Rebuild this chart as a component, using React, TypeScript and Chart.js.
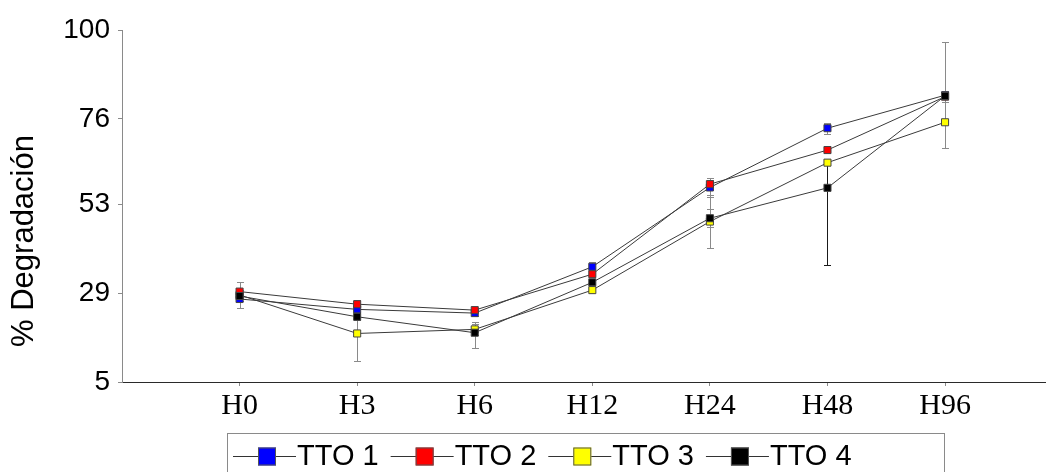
import React, { useEffect, useRef } from "react";
import { Chart, registerables } from "chart.js";

Chart.register(...registerables);

const categories = ["H0", "H3", "H6", "H12", "H24", "H48", "H96"];
const yTickValues = [5, 29, 53, 76, 100];
const seriesLabels = ["TTO 1", "TTO 2", "TTO 3", "TTO 4"];

const tto1 = [27.4, 24.6, 23.6, 36.1, 57.5, 73.5, 82.4];
const tto2 = [29.4, 26.0, 24.4, 34.1, 58.4, 67.6, 82.0];
const tto3 = [28.5, 18.1, 19.2, 29.8, 48.3, 64.2, 75.1];
const tto4 = [28.2, 22.6, 18.3, 31.9, 49.2, 57.4, 82.2];

const tto1ErrPlus = [0, 0.6, 0.8, 1.2, 2.5, 1.5, 0];
const tto1ErrMinus = [0, 0.6, 0.8, 1.2, 2.5, 1.5, 0];
const tto2ErrPlus = [2.6, 1.2, 0.6, 0.8, 1.2, 0.5, 1.5];
const tto2ErrMinus = [2.6, 1.2, 0.6, 0.8, 1.2, 0.5, 1.5];
const tto3ErrPlus = [0, 7.3, 1.5, 0, 7.2, 0, 0];
const tto3ErrMinus = [0, 7.3, 1.5, 0, 7.2, 0, 0];
const tto4ErrPlus = [1.5, 1.0, 3.0, 0.5, 2.4, 6.8, 14.6];
const tto4ErrMinus = [3.2, 1.0, 4.2, 0.5, 2.4, 20.8, 14.0];

const seriesValues = [tto1, tto2, tto3, tto4];
const seriesErrPlus = [tto1ErrPlus, tto2ErrPlus, tto3ErrPlus, tto4ErrPlus];
const seriesErrMinus = [tto1ErrMinus, tto2ErrMinus, tto3ErrMinus, tto4ErrMinus];

const fillColors = ["#0000ff", "#ff0000", "#ffff00", "#000000"];
const drawOrder = [3, 1, 2, 0];

const SANS = "'Liberation Sans', Arial, sans-serif";
const SERIF = "'Liberation Serif', 'Times New Roman', serif";

const errorBarPlugin = {
  id: "errorBars",
  beforeDatasetsDraw(chart: any) {
    const ctx = chart.ctx;
    const xs = chart.scales.x;
    const ys = chart.scales.y;
    ctx.save();
    ctx.lineWidth = 1;
    seriesValues.forEach((vals, s) => {
      vals.forEach((v, i) => {
        const p = seriesErrPlus[s][i];
        const m = seriesErrMinus[s][i];
        if (!p && !m) return;
        const x = Math.round(xs.getPixelForValue(i)) + 0.5;
        const yt = Math.round(ys.getPixelForValue(v + p)) + 0.5;
        const yb = Math.round(ys.getPixelForValue(v - m)) + 0.5;
        ctx.strokeStyle = s === 3 && i === 5 ? "#1a1a1a" : "#8a8a8a";
        ctx.beginPath();
        ctx.moveTo(x, yt);
        ctx.lineTo(x, yb);
        ctx.moveTo(x - 3.5, yt);
        ctx.lineTo(x + 3.5, yt);
        ctx.moveTo(x - 3.5, yb);
        ctx.lineTo(x + 3.5, yb);
        ctx.stroke();
      });
    });
    ctx.restore();
  },
};

const decorPlugin = {
  id: "decor",
  afterDraw(chart: any) {
    const ctx = chart.ctx;
    ctx.save();
    // y axis title
    ctx.fillStyle = "#000";
    ctx.font = `31px ${SANS}`;
    ctx.textAlign = "center";
    ctx.textBaseline = "middle";
    ctx.translate(24, 241);
    ctx.rotate(-Math.PI / 2);
    ctx.fillText("% Degradación", 0, 0);
    ctx.restore();

    // legend
    ctx.save();
    ctx.strokeStyle = "#8a8a8a";
    ctx.lineWidth = 1;
    ctx.strokeRect(227.5, 433.5, 717, 60);
    ctx.font = `29px ${SANS}`;
    ctx.textBaseline = "alphabetic";
    ctx.textAlign = "left";
    let x = 233;
    const yMid = 456.5;
    seriesLabels.forEach((lab, i) => {
      ctx.strokeStyle = "#333";
      ctx.beginPath();
      ctx.moveTo(x, yMid);
      ctx.lineTo(x + 63, yMid);
      ctx.stroke();
      ctx.fillStyle = fillColors[i];
      ctx.fillRect(x + 25, yMid - 9, 18, 18);
      ctx.strokeStyle = "#555";
      ctx.strokeRect(x + 25.5, yMid - 8.5, 17, 17);
      ctx.fillStyle = "#000";
      ctx.fillText(lab, x + 64, 465);
      x += 64 + ctx.measureText(lab).width + 12;
    });
    ctx.restore();
  },
};

export default function App() {
  const ref = useRef<HTMLCanvasElement | null>(null);

  useEffect(() => {
    if (!ref.current) return;
    const chart = new Chart(ref.current, {
      type: "line",
      data: {
        datasets: seriesLabels.map((lab, s) => ({
          label: lab,
          data: seriesValues[s].map((v, i) => ({ x: i, y: v })),
          borderColor: "#3a3a3a",
          borderWidth: 1,
          backgroundColor: fillColors[s],
          pointBackgroundColor: fillColors[s],
          pointBorderColor: "#444",
          pointBorderWidth: 1,
          pointStyle: "rect",
          pointRadius: 5,
          tension: 0,
          order: drawOrder[s],
        })),
      },
      options: {
        animation: false,
        responsive: false,
        layout: { padding: { top: 30, left: 0, right: 0, bottom: 0 } },
        plugins: {
          legend: { display: false },
          tooltip: { enabled: false },
          title: { display: false },
        },
        scales: {
          x: {
            type: "linear",
            min: -1,
            max: 6.85,
            afterBuildTicks: (scale: any) => {
              scale.ticks = categories.map((_, i) => ({ value: i }));
            },
            afterFit: (scale: any) => {
              scale.height = 90;
            },
            ticks: {
              callback: (v: any) => categories[v] ?? "",
              font: { family: SERIF, size: 30 },
              color: "#000",
              padding: 2,
              maxRotation: 0,
              autoSkip: false,
            },
            grid: {
              drawOnChartArea: false,
              drawTicks: true,
              tickLength: 4,
              color: "#8a8a8a",
            },
            border: { color: "#2a2a2a", width: 1 },
          },
          y: {
            type: "linear",
            min: 5,
            max: 100,
            afterBuildTicks: (scale: any) => {
              scale.ticks = yTickValues.map((v) => ({ value: v }));
            },
            afterFit: (scale: any) => {
              scale.width = 122;
            },
            ticks: {
              font: { family: SANS, size: 28 },
              color: "#000",
              padding: 8,
            },
            grid: {
              drawOnChartArea: false,
              drawTicks: true,
              tickLength: 4,
              color: "#8a8a8a",
            },
            border: { color: "#8a8a8a", width: 1 },
          },
        },
      },
      plugins: [errorBarPlugin, decorPlugin],
    } as any);
    return () => chart.destroy();
  }, []);

  return (
    <div
      style={{
        position: "fixed",
        left: 0,
        top: 0,
        width: 1051,
        height: 472,
        background: "#fff",
      }}
    >
      <canvas ref={ref} width={1051} height={472} style={{ display: "block" }} />
    </div>
  );
}
